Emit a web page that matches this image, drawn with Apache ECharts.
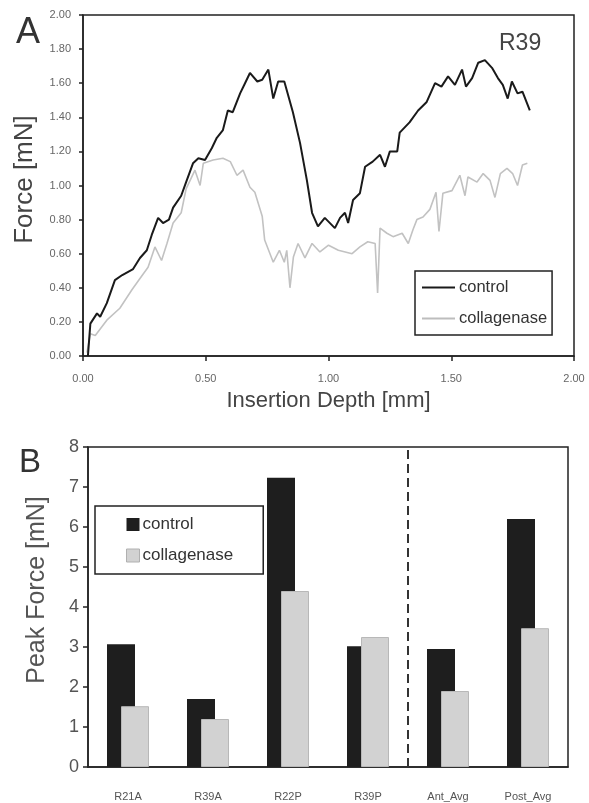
<!DOCTYPE html>
<html>
<head>
<meta charset="utf-8">
<script src="https://cdn.jsdelivr.net/npm/echarts@6/dist/echarts.min.js"></script>
<style>
  html, body { margin: 0; padding: 0; background: #fff; }
  #chart { width: 589px; height: 803px; }
</style>
</head>
<body>
<div id="chart"></div>
<script>
// panel A: force vs insertion depth
const controlX = [0.02, 0.03, 0.057, 0.07, 0.097, 0.13, 0.16, 0.204, 0.232, 0.26, 0.28, 0.306, 0.326, 0.35, 0.367, 0.40, 0.42, 0.448, 0.47, 0.497, 0.525, 0.545, 0.57, 0.59, 0.61, 0.64, 0.66, 0.68, 0.71, 0.73, 0.755, 0.775, 0.795, 0.82, 0.855, 0.884, 0.912, 0.933, 0.957, 0.985, 1.026, 1.047, 1.067, 1.08, 1.10, 1.128, 1.149, 1.18, 1.21, 1.23, 1.25, 1.28, 1.29, 1.33, 1.365, 1.40, 1.434, 1.46, 1.487, 1.515, 1.544, 1.56, 1.585, 1.61, 1.637, 1.666, 1.69, 1.71, 1.73, 1.747, 1.77, 1.79, 1.82];
const controlY = [0.00, 0.19, 0.25, 0.23, 0.31, 0.445, 0.475, 0.51, 0.575, 0.62, 0.71, 0.81, 0.78, 0.80, 0.87, 0.94, 1.02, 1.13, 1.16, 1.15, 1.22, 1.28, 1.325, 1.44, 1.43, 1.54, 1.60, 1.66, 1.61, 1.62, 1.68, 1.51, 1.61, 1.61, 1.43, 1.25, 1.03, 0.84, 0.76, 0.81, 0.75, 0.81, 0.84, 0.78, 0.915, 0.955, 1.11, 1.14, 1.18, 1.11, 1.20, 1.20, 1.31, 1.37, 1.44, 1.49, 1.60, 1.58, 1.64, 1.59, 1.68, 1.58, 1.63, 1.72, 1.735, 1.69, 1.63, 1.59, 1.51, 1.61, 1.54, 1.55, 1.44];
const collX = [0.016, 0.03, 0.05, 0.097, 0.15, 0.2, 0.232, 0.265, 0.293, 0.32, 0.342, 0.367, 0.40, 0.42, 0.456, 0.477, 0.49, 0.53, 0.57, 0.60, 0.627, 0.652, 0.68, 0.70, 0.73, 0.74, 0.775, 0.80, 0.82, 0.83, 0.843, 0.857, 0.876, 0.904, 0.933, 0.965, 1.0, 1.04, 1.096, 1.128, 1.16, 1.19, 1.20, 1.21, 1.238, 1.263, 1.30, 1.325, 1.344, 1.36, 1.385, 1.413, 1.438, 1.45, 1.466, 1.503, 1.535, 1.556, 1.568, 1.605, 1.63, 1.658, 1.678, 1.70, 1.727, 1.75, 1.77, 1.79, 1.81];
const collY = [0.02, 0.13, 0.12, 0.21, 0.28, 0.39, 0.455, 0.52, 0.64, 0.56, 0.66, 0.78, 0.84, 0.98, 1.09, 1.0, 1.13, 1.15, 1.16, 1.14, 1.06, 1.09, 0.99, 0.96, 0.82, 0.68, 0.55, 0.62, 0.55, 0.62, 0.40, 0.58, 0.66, 0.575, 0.66, 0.61, 0.65, 0.62, 0.60, 0.64, 0.67, 0.66, 0.37, 0.75, 0.72, 0.70, 0.72, 0.66, 0.74, 0.80, 0.815, 0.86, 0.96, 0.73, 0.955, 0.97, 1.06, 0.94, 1.05, 1.02, 1.07, 1.03, 0.93, 1.07, 1.10, 1.07, 1.0, 1.12, 1.13];

// panel B: peak force per sample
const samples = ['R21A', 'R39A', 'R22P', 'R39P', 'Ant_Avg', 'Post_Avg'];
const peakControl = [3.07, 1.70, 7.23, 3.02, 2.95, 6.2];
const peakColl = [1.52, 1.2, 4.4, 3.25, 1.9, 3.47];
const dividerAt = [4];

const FONT = 'Liberation Sans';
const zip = (xs, ys) => xs.map((x, i) => [x, ys[i]]);

const myChart = echarts.init(document.getElementById('chart'));

const option = {
  backgroundColor: '#fff',
  textStyle: { fontFamily: FONT },
  animation: false,
  title: [
    { text: 'A', left: 11, top: 10, textStyle: { fontSize: 36, fontWeight: 'normal', color: '#333', fontFamily: FONT } },
    { text: 'R39', left: 494, top: 27, textStyle: { fontSize: 23, fontWeight: 'normal', color: '#444', fontFamily: FONT } },
    { text: 'B', left: 14, top: 441, textStyle: { fontSize: 33, fontWeight: 'normal', color: '#333', fontFamily: FONT } }
  ],
  legend: [
    {
      orient: 'vertical',
      left: 415, top: 271,
      padding: [8, 5, 8, 7],
      itemGap: 14,
      itemWidth: 33, itemHeight: 2,
      icon: 'rect',
      borderColor: '#222', borderWidth: 1.5,
      textStyle: { fontSize: 16.5, color: '#333', fontFamily: FONT, padding: [0, 0, 0, -1] },
      data: [
        { name: 'control', itemStyle: { color: '#1a1a1a', borderWidth: 0 } },
        { name: 'collagenase', itemStyle: { color: '#bdbdbd', borderWidth: 0 } }
      ],
      selectedMode: false
    },
    {
      orient: 'vertical',
      left: 95, top: 506,
      padding: [10, 30, 10, 31],
      itemGap: 14,
      itemWidth: 13, itemHeight: 13,
      icon: 'rect',
      borderColor: '#222', borderWidth: 1.5,
      textStyle: { fontSize: 17, color: '#333', fontFamily: FONT, padding: [0, 0, 0, -2] },
      data: [
        { name: 'control', itemStyle: { color: '#1e1e1e', borderWidth: 0 } },
        { name: 'collagenase', itemStyle: { color: '#d2d2d2', borderColor: '#b0b0b0', borderWidth: 1 } }
      ],
      selectedMode: false
    }
  ],
  grid: [
    { left: 83, top: 15, width: 491, height: 341, show: true, borderColor: '#222', borderWidth: 1.5, backgroundColor: 'transparent' },
    { left: 88, top: 447, width: 480, height: 320, show: true, borderColor: '#222', borderWidth: 1.5, backgroundColor: 'transparent' }
  ],
  xAxis: [
    {
      gridIndex: 0, type: 'value', min: 0, max: 2, interval: 0.5,
      name: 'Insertion Depth [mm]', nameLocation: 'middle', nameGap: 34,
      nameTextStyle: { fontSize: 22, color: '#444', fontFamily: FONT },
      axisLine: { lineStyle: { color: '#222', width: 1.5 } },
      axisTick: { length: 5, lineStyle: { color: '#222', width: 1.5 } },
      axisLabel: { fontSize: 11, color: '#666', margin: 17, formatter: v => v.toFixed(2) },
      splitLine: { show: false }
    },
    {
      gridIndex: 1, type: 'category', data: samples,
      axisLine: { lineStyle: { color: '#222', width: 1.5 } },
      axisTick: { length: 5, lineStyle: { color: '#222', width: 1.5 } },
      axisLabel: { fontSize: 11, color: '#555', margin: 24 },
      splitLine: { show: false }
    },
    {
      gridIndex: 1, type: 'value', min: 0, max: samples.length, show: false
    }
  ],
  yAxis: [
    {
      gridIndex: 0, type: 'value', min: 0, max: 2, interval: 0.2,
      name: 'Force [mN]', nameLocation: 'middle', nameGap: 45,
      nameTextStyle: { fontSize: 26, color: '#444', fontFamily: FONT, padding: [0, 0, 0, 12] },
      axisLine: { show: true, lineStyle: { color: '#222', width: 1.5 } },
      axisTick: { show: true, length: 4, lineStyle: { color: '#222', width: 1.5 } },
      axisLabel: { fontSize: 11, color: '#666', margin: 12, formatter: v => v.toFixed(2) },
      splitLine: { show: false }
    },
    {
      gridIndex: 1, type: 'value', min: 0, max: 8, interval: 1,
      name: 'Peak Force [mN]', nameLocation: 'middle', nameGap: 38,
      nameTextStyle: { fontSize: 25, color: '#555', fontFamily: FONT, padding: [0, 0, 0, 34] },
      axisLine: { show: true, lineStyle: { color: '#222', width: 1.5 } },
      axisTick: { show: true, length: 5, lineStyle: { color: '#222', width: 1.5 } },
      axisLabel: { fontSize: 18, color: '#555', margin: 9 },
      splitLine: { show: false }
    }
  ],
  series: [
    {
      name: 'control', type: 'line', xAxisIndex: 0, yAxisIndex: 0,
      data: zip(controlX, controlY), showSymbol: false,
      lineStyle: { color: '#1a1a1a', width: 2 }, itemStyle: { color: '#1a1a1a' }, z: 3
    },
    {
      name: 'collagenase', type: 'line', xAxisIndex: 0, yAxisIndex: 0,
      data: zip(collX, collY), showSymbol: false,
      lineStyle: { color: '#c2c2c2', width: 1.6 }, itemStyle: { color: '#c2c2c2' }, z: 2
    },
    {
      name: 'control', type: 'bar', xAxisIndex: 1, yAxisIndex: 1,
      data: peakControl, barWidth: 28, barGap: '-50%',
      itemStyle: { color: '#1e1e1e' }
    },
    {
      name: 'collagenase', type: 'bar', xAxisIndex: 1, yAxisIndex: 1,
      data: peakColl, barWidth: 28,
      itemStyle: { color: '#d2d2d2', borderColor: '#b8b8b8', borderWidth: 1 }
    },
    {
      name: 'divider', type: 'line', xAxisIndex: 2, yAxisIndex: 1, data: [],
      markLine: {
        silent: true, symbol: 'none', label: { show: false },
        lineStyle: { type: [9, 5], color: '#333', width: 2 },
        data: dividerAt.map(v => ({ xAxis: v }))
      }
    }
  ]
};

myChart.setOption(option);
</script>
</body>
</html>
